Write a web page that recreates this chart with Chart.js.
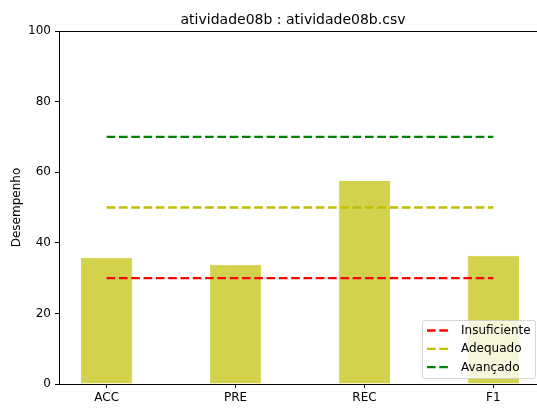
<!DOCTYPE html>
<html>
<head>
<meta charset="utf-8">
<script src="https://cdn.jsdelivr.net/npm/chart.js@4/dist/chart.umd.min.js"></script>
<style>
html, body { margin: 0; padding: 0; background: #fff; overflow: hidden; }
#wrap { width: 537px; height: 410px; overflow: hidden; }
canvas { display: block; }
</style>
</head>
<body>
<div id="wrap"><canvas id="chart" width="600" height="410"></canvas></div>
<script>
// dados
const chartTitle = 'atividade08b : atividade08b.csv';
const categories = ['ACC', 'PRE', 'REC', 'F1'];
const scores = [35.8, 33.8, 57.5, 36.3];
const levelNames = ['Insuficiente', 'Adequado', 'Avançado'];
const levelValues = [30, 50, 70];
const levelColors = ['rgb(255,0,0)', 'rgb(191,191,0)', 'rgb(0,128,0)'];
const yTicks = [0, 20, 40, 60, 80, 100];

Chart.defaults.font.family = 'DejaVu Sans';
Chart.defaults.font.size = 12;
Chart.defaults.color = '#000';

const lineWidth = 2.3;
const dash = [8.6, 3.7];

// titulo, moldura de cima e legenda no canto inferior direito
const framePlugin = {
    id: 'frame',
    afterDraw(chart) {
        const ctx = chart.ctx;
        const ca = chart.chartArea;
        ctx.save();
        ctx.fillStyle = '#000';
        ctx.font = '14px "DejaVu Sans"';
        ctx.textAlign = 'center';
        ctx.textBaseline = 'alphabetic';
        ctx.fillText(chartTitle, 293, 24);
        ctx.textAlign = 'left';

        ctx.strokeStyle = '#000';
        ctx.lineWidth = 1;
        ctx.beginPath();
        ctx.moveTo(ca.left, ca.top + 0.5);
        ctx.lineTo(ca.right, ca.top + 0.5);
        ctx.moveTo(ca.right - 0.5, ca.top);
        ctx.lineTo(ca.right - 0.5, ca.bottom);
        ctx.stroke();

        const w = 113, h = 58;
        const x = ca.right - 6 - w;
        const y = ca.bottom - 6 - h;
        ctx.fillStyle = 'rgba(255,255,255,0.8)';
        ctx.strokeStyle = 'rgba(204,204,204,0.8)';
        ctx.beginPath();
        ctx.roundRect(x + 0.5, y + 0.5, w, h, 2);
        ctx.fill();
        ctx.stroke();

        ctx.font = '12px "DejaVu Sans"';
        ctx.textBaseline = 'middle';
        levelNames.forEach((name, i) => {
            const ry = y + 10.5 + i * 18.3;
            ctx.strokeStyle = levelColors[i];
            ctx.lineWidth = lineWidth;
            ctx.setLineDash(dash);
            ctx.beginPath();
            ctx.moveTo(x + 5, ry);
            ctx.lineTo(x + 27, ry);
            ctx.stroke();
            ctx.setLineDash([]);
            ctx.fillStyle = '#000';
            ctx.fillText(name, x + 39, ry + 0.5);
        });
        ctx.restore();
    }
};

const datasets = [{
    type: 'bar',
    label: 'Desempenho',
    data: scores.map((v, i) => ({ x: i, y: v })),
    backgroundColor: 'rgba(191,191,0,0.7)',
    borderColor: 'rgba(191,191,0,0.7)',
    borderWidth: 1,
    barPercentage: 0.4,
    categoryPercentage: 1.0,
    order: 1
}];

levelNames.forEach((name, i) => {
    datasets.push({
        type: 'line',
        label: name,
        data: [{ x: 0, y: levelValues[i] }, { x: categories.length - 1, y: levelValues[i] }],
        borderColor: levelColors[i],
        borderWidth: lineWidth,
        borderDash: dash,
        pointRadius: 0,
        fill: false,
        order: 0
    });
});

new Chart(document.getElementById('chart'), {
    type: 'bar',
    data: { datasets: datasets },
    plugins: [framePlugin],
    options: {
        responsive: false,
        animation: false,
        layout: { padding: { left: 0, right: 59, top: 31, bottom: 0 } },
        plugins: {
            legend: { display: false },
            tooltip: { enabled: false },
            title: { display: false }
        },
        scales: {
            x: {
                type: 'linear',
                offset: false,
                min: -0.37,
                max: categories.length - 1 + 0.37,
                grid: { offset: false, drawOnChartArea: false, drawTicks: true, tickLength: 4, color: '#000' },
                border: { display: true, color: '#000', width: 1 },
                afterBuildTicks: (scale) => {
                    scale.ticks = categories.map((c, i) => ({ value: i }));
                },
                ticks: {
                    padding: 3,
                    maxRotation: 0,
                    callback: (v) => categories[v]
                },
                afterFit: (scale) => { scale.height = 26; }
            },
            y: {
                min: 0,
                max: 100,
                grid: { drawOnChartArea: false, drawTicks: true, tickLength: 4, color: '#000' },
                border: { display: true, color: '#000', width: 1 },
                afterBuildTicks: (scale) => {
                    scale.ticks = yTicks.map(v => ({ value: v }));
                },
                ticks: { padding: 4 },
                title: {
                    display: true,
                    text: 'Desempenho',
                    font: { size: 12 },
                    padding: { top: 10, bottom: 0 }
                },
                afterFit: (scale) => { scale.width = 59; }
            }
        }
    }
});
</script>
</body>
</html>
